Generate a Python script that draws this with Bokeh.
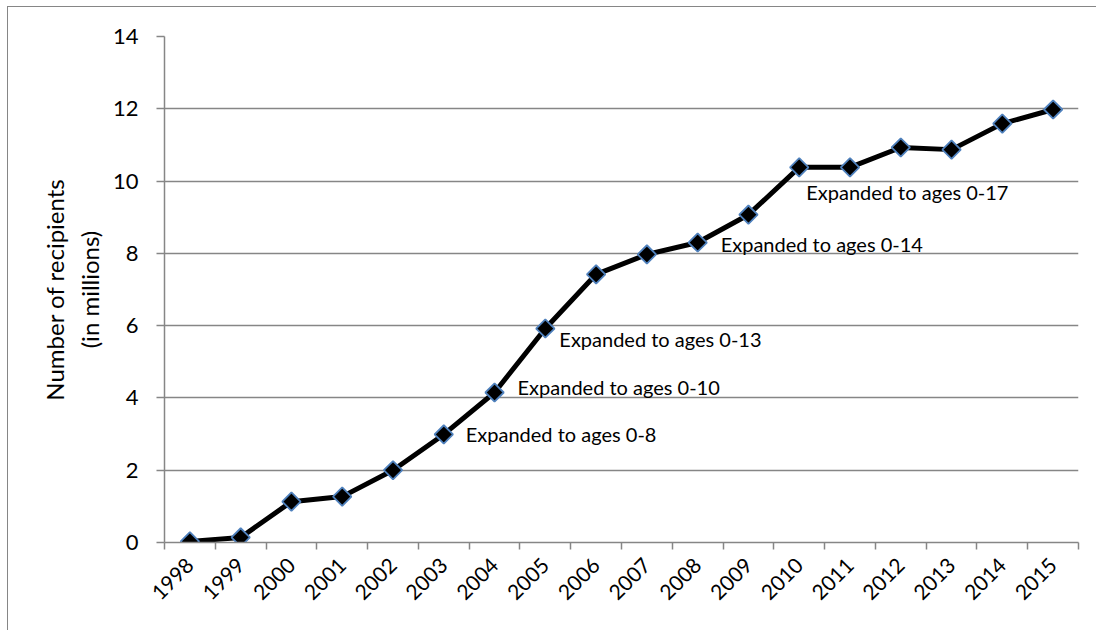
import math
from bokeh.plotting import figure
from bokeh.models import FixedTicker, ColumnDataSource
from bokeh.core.properties import value
from bokeh.embed import file_html
from bokeh.resources import INLINE

years = [1998, 1999, 2000, 2001, 2002, 2003, 2004, 2005, 2006,
         2007, 2008, 2009, 2010, 2011, 2012, 2013, 2014, 2015]
recipients = [0.03, 0.14, 1.13, 1.27, 2.0, 2.99, 4.15, 5.92, 7.42,
              7.97, 8.3, 9.07, 10.38, 10.38, 10.93, 10.87, 11.59, 11.98]
y_ticks = [0, 2, 4, 6, 8, 10, 12, 14]

note_years = [2003, 2004, 2005, 2008, 2010]
note_texts = ["Expanded to ages 0-8", "Expanded to ages 0-10", "Expanded to ages 0-13",
              "Expanded to ages 0-14", "Expanded to ages 0-17"]
# label placement (pixels) relative to the point
note_dx = [22, 23, 14, 23, 7]
note_dy = [0, -6, 10, 1, 25]

FONT = "Lato"
GREY = "#868686"

p = figure(width=1089, height=624, output_backend="svg", toolbar_location=None,
           x_range=(years[0] - 0.5, years[-1] + 0.5), y_range=(0, 14),
           min_border_left=156, min_border_right=19, min_border_top=29, min_border_bottom=89,
           margin=(6, 0, 0, 7),
           styles={"border-left": "1.5px solid #868686", "border-top": "1.5px solid #868686"})
p.outline_line_color = None
p.background_fill_color = "white"
p.border_fill_color = "white"

# x axis
p.xaxis.ticker = FixedTicker(ticks=years, minor_ticks=[y - 0.5 for y in years] + [years[-1] + 0.5])
p.xaxis.major_tick_out = 0
p.xaxis.major_tick_in = 0
p.xaxis.minor_tick_out = 7
p.xaxis.minor_tick_in = 0
p.xaxis.minor_tick_line_color = GREY
p.xaxis.minor_tick_line_width = 1.5
p.xaxis.axis_line_color = GREY
p.xaxis.axis_line_width = 1.5
p.xaxis.major_label_orientation = math.pi / 4
p.xaxis.major_label_text_font = FONT
p.xaxis.major_label_text_font_size = "21px"
p.xaxis.major_label_text_color = "black"
p.xaxis.major_label_standoff = 12
p.xgrid.grid_line_color = None

# y axis
p.yaxis.ticker = FixedTicker(ticks=y_ticks)
p.yaxis.minor_tick_line_color = None
p.yaxis.major_tick_out = 8
p.yaxis.major_tick_in = 0
p.yaxis.major_tick_line_color = GREY
p.yaxis.major_tick_line_width = 1.5
p.yaxis.axis_line_color = GREY
p.yaxis.axis_line_width = 1.5
p.yaxis.major_label_text_font = FONT
p.yaxis.major_label_text_font_size = "22px"
p.yaxis.major_label_text_color = "black"
p.yaxis.major_label_standoff = 18
p.yaxis.axis_label = "Number of recipients\n(in millions)"
p.yaxis.axis_label_text_font = FONT
p.yaxis.axis_label_text_font_size = "24px"
p.yaxis.axis_label_text_font_style = "normal"
p.yaxis.axis_label_text_color = "black"
p.yaxis.axis_label_standoff = 6
p.ygrid.grid_line_color = GREY
p.ygrid.grid_line_width = 1.5

src = ColumnDataSource(dict(x=years, y=recipients))
p.line("x", "y", source=src, line_color="black", line_width=5)
p.scatter("x", "y", source=src, marker="square", angle=math.pi / 4, size=13,
          fill_color="black", line_color="#4f81bd", line_width=1.8)

lookup = dict(zip(years, recipients))
nsrc = ColumnDataSource(dict(x=note_years, y=[lookup[y] for y in note_years],
                             text=note_texts, dx=note_dx, dy=note_dy))
p.text("x", "y", text="text", source=nsrc, x_offset="dx", y_offset="dy",
       text_font=value(FONT), text_font_size="20px", text_color="black",
       text_align="left", text_baseline="middle")

open("out.html", "w").write(file_html(p, INLINE))
